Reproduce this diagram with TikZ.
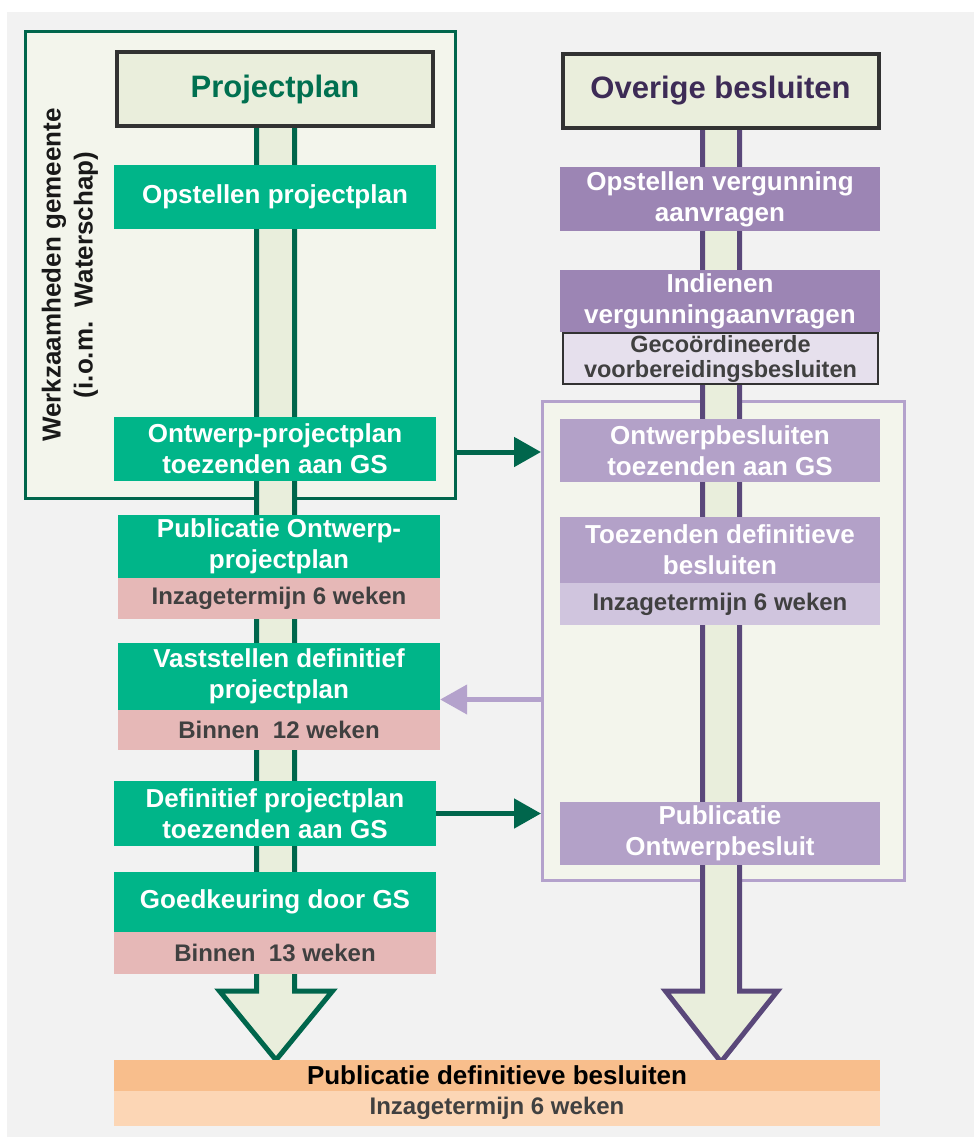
\documentclass[tikz,border=0pt]{standalone}
\usepackage{fontspec}
\setmainfont{Liberation Sans}
\usepackage{xcolor}
\usetikzlibrary{arrows.meta, calc}
\definecolor{bggray}{RGB}{242,242,242}
\definecolor{framefill}{RGB}{243,245,236}
\definecolor{spinefill}{RGB}{233,238,220}
\definecolor{headfill}{RGB}{234,238,220}
\definecolor{headborder}{RGB}{50,50,50}
\definecolor{darkgreen}{RGB}{0,102,76}
\definecolor{titlegreen}{RGB}{0,112,80}
\definecolor{stepgreen}{RGB}{0,181,137}
\definecolor{darkpurple}{RGB}{90,72,122}
\definecolor{titlepurple}{RGB}{61,43,86}
\definecolor{steppurple}{RGB}{156,133,180}
\definecolor{steplilac}{RGB}{179,161,200}
\definecolor{termlilac}{RGB}{208,197,222}
\definecolor{coordfill}{RGB}{230,224,237}
\definecolor{frameline}{RGB}{180,162,204}
\definecolor{termpink}{RGB}{230,184,183}
\definecolor{finalorange}{RGB}{248,190,140}
\definecolor{finalpeach}{RGB}{252,214,181}
\definecolor{termtext}{RGB}{64,64,64}

\begin{document}
\begin{tikzpicture}[x=1pt, y=-1pt,
  groupframe/.style={inner sep=0, line width=3pt, fill=framefill},
  headbox/.style={draw=headborder, line width=4pt, fill=headfill, minimum width=316pt, minimum height=74pt, inner sep=0, font=\fontsize{31}{36}\selectfont\bfseries},
  greenstep/.style={fill=stepgreen, text=white, minimum width=322pt, inner sep=0, align=center, font=\fontsize{26}{31}\selectfont\bfseries},
  purplestep/.style={fill=steppurple, text=white, minimum width=320pt, inner sep=0, align=center, font=\fontsize{26}{31}\selectfont\bfseries},
  lilacstep/.style={purplestep, fill=steplilac},
  termbox/.style={fill=termpink, text=termtext, minimum width=322pt, inner sep=0, font=\fontsize{24}{28}\selectfont\bfseries},
  spine/.style={line width=5pt, line join=miter, fill=spinefill},
  link/.style={line width=5pt, -{Triangle[width=29pt,length=27pt]}},
]
\useasboundingbox (0,0) rectangle (974,1137);
\fill[white] (0,0) rectangle (974,1137);
\fill[bggray] (7,12) rectangle (974,1137);

% ==================== frames ====================
\node[groupframe, draw=darkgreen, minimum width=430pt, minimum height=467pt] (werkframe) at (240.5,265) {};
\node[rotate=90, align=center, text=black!90, font=\fontsize{26}{32}\selectfont\bfseries] (werklabel) at (70,275) {Werkzaamheden gemeente\\(i.o.m.\ \ Waterschap)};
\node[groupframe, draw=frameline, minimum width=362pt, minimum height=479pt] (besluitframe) at (723.5,641) {};

% ==================== spines ====================
\draw[spine, draw=darkgreen] (256.5,125) -- (256.5,991) -- (219.5,991) -- (276,1060) -- (332.5,991) -- (294.5,991) -- (294.5,125);
\draw[spine, draw=darkpurple] (702.5,128) -- (702.5,991) -- (665.5,991) -- (721,1062) -- (777.5,991) -- (739.5,991) -- (739.5,128);

% ==================== Projectplan ====================
\node[headbox, text=titlegreen] (projhead) at (275,89) {Projectplan};
\node[greenstep, minimum height=64pt] (opstellenpp) at (275,197) {Opstellen projectplan};
\node[greenstep, minimum height=64pt] (ontwerppp) at (275,449) {Ontwerp-projectplan\\toezenden aan GS};
\node[greenstep, minimum height=63pt] (publicatiepp) at (279,546.5) {Publicatie Ontwerp-\\projectplan};
\node[termbox, minimum height=41pt] (inzagepp) at (279,598.5) {Inzagetermijn 6 weken};
\node[greenstep, minimum height=67pt] (vaststellen) at (279,676.5) {Vaststellen definitief\\projectplan};
\node[termbox, minimum height=40pt] (binnen12) at (279,730) {Binnen\ \ 12 weken};
\node[greenstep, minimum height=65pt] (definitief) at (275,813.5) {Definitief projectplan\\toezenden aan GS};
\node[greenstep, minimum height=60pt] (goedkeuring) at (275,902) {Goedkeuring door GS};
\node[termbox, minimum height=42pt] (binnen13) at (275,953) {Binnen\ \ 13 weken};

% ==================== Overige besluiten ====================
\node[headbox, text=titlepurple] (overhead) at (720.5,91) {Overige besluiten};
\node[purplestep, minimum height=64pt] (opstellenvg) at (720,199) {Opstellen vergunning\\aanvragen};
\node[purplestep, minimum height=62pt] (indienen) at (720,301) {Indienen\\vergunningaanvragen};
\node[draw=headborder, line width=2pt, fill=coordfill, text=termtext, minimum width=315pt, minimum height=51pt, inner sep=0, align=center, font=\fontsize{23.5}{25}\selectfont\bfseries] (gecoord) at (720.5,358.5) {Gecoördineerde\\voorbereidingsbesluiten};
\node[lilacstep, minimum height=63pt] (ontwerpbs) at (720,450.5) {Ontwerpbesluiten\\toezenden aan GS};
\node[lilacstep, minimum height=66pt] (toezenden) at (720,550) {Toezenden definitieve\\besluiten};
\node[termbox, fill=termlilac, minimum width=320pt, minimum height=42pt] (inzagebs) at (720,604) {Inzagetermijn 6 weken};
\node[lilacstep, minimum height=63pt] (publob) at (720,833.5) {Publicatie\\Ontwerpbesluit};

% ==================== Publicatie definitieve besluiten ====================
\node[fill=finalorange, text=black, minimum width=766pt, minimum height=31pt, inner sep=0, font=\fontsize{26}{31}\selectfont\bfseries] (final) at (497,1075.5) {Publicatie definitieve besluiten};
\node[fill=finalpeach, text=termtext, minimum width=766pt, minimum height=35pt, inner sep=0, font=\fontsize{24}{28}\selectfont\bfseries] (finalterm) at (497,1108.5) {Inzagetermijn 6 weken};

% ==================== links ====================
\draw[link, draw=darkgreen] ([yshift=-3pt]ontwerppp.east -| werkframe.east) -- ([yshift=-3pt]ontwerppp.east -| besluitframe.west);
\draw[link, draw=frameline, line width=4.5pt] ([yshift=-23pt]vaststellen.east -| besluitframe.west) -- ([yshift=-23pt]vaststellen.east);
\draw[link, draw=darkgreen] (definitief.east) -- (definitief.east -| besluitframe.west);

\end{tikzpicture}
\end{document}
